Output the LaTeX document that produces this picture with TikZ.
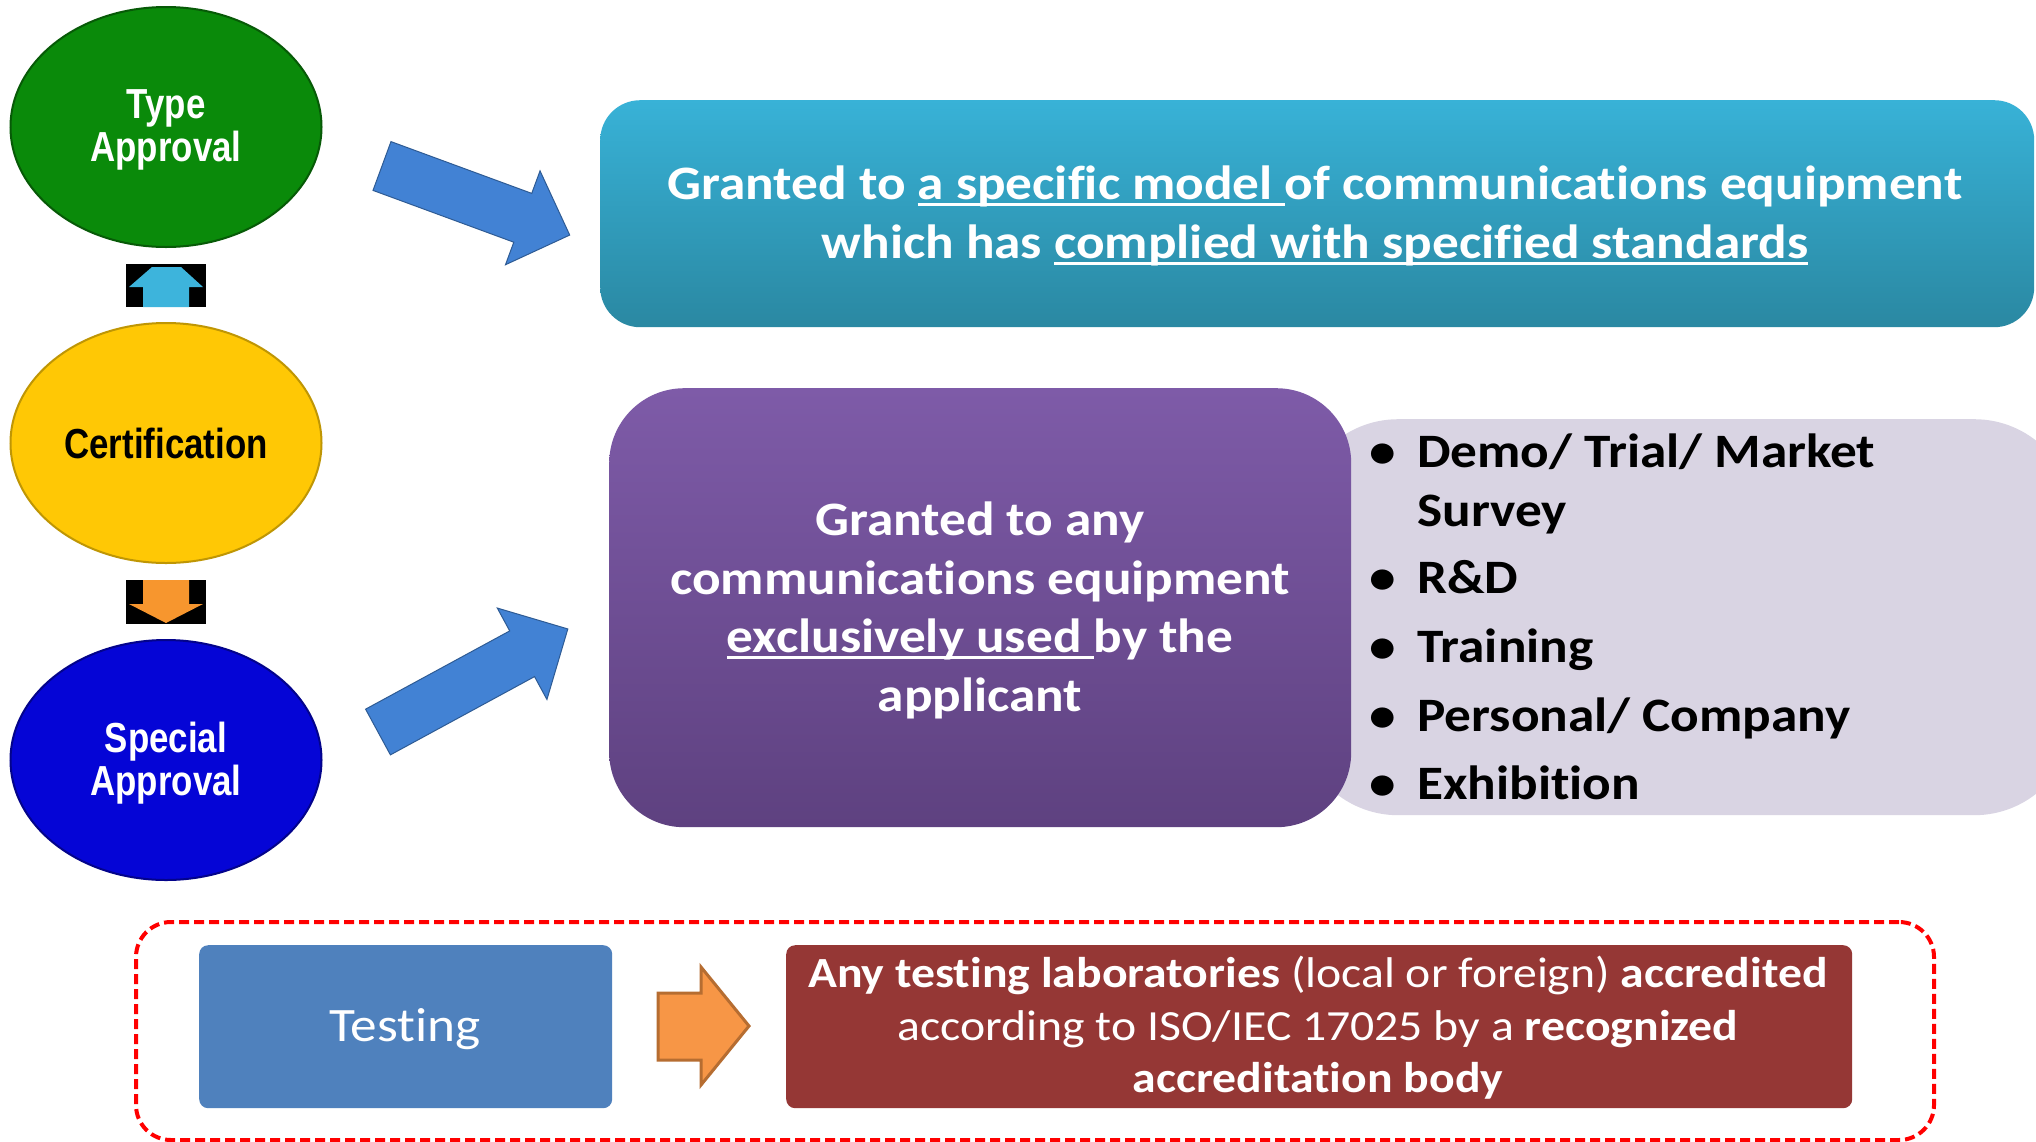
\documentclass[tikz,border=0pt]{standalone}
\usepackage{fontspec}
\setmainfont{Carlito}[FakeStretch=1.11, Ligatures=NoCommon]
\newfontfamily\narrowfont[FakeStretch=0.83]{Liberation Sans}
\usetikzlibrary{shapes.geometric}
\definecolor{tagreen}{HTML}{0A8A0A}
\definecolor{cyellow}{HTML}{FFC805}
\definecolor{sablue}{HTML}{0505D6}
\definecolor{cyanT}{HTML}{38B2D7}
\definecolor{cyanB}{HTML}{2A88A2}
\definecolor{purT}{HTML}{7E5BA8}
\definecolor{purB}{HTML}{5E4180}
\definecolor{lav}{HTML}{D9D4E3}
\definecolor{testblue}{HTML}{4F81BD}
\definecolor{darkred}{HTML}{953735}
\definecolor{orfill}{HTML}{F79646}
\definecolor{ordraw}{HTML}{B66D31}
\definecolor{arrowblue}{HTML}{4282D4}
\definecolor{smallcyan}{HTML}{3DB4DC}
\definecolor{smallorange}{HTML}{F7962E}
\newcommand\ulbox[1]{\setbox0\hbox{#1}\rlap{\rule[-7pt]{\wd0}{3pt}}\box0}
\begin{document}
\begin{tikzpicture}[x=1pt,y=-1pt,
  oval/.style={ellipse, minimum width=311pt, minimum height=240pt, inner sep=0pt, line width=2pt, align=center, font=\narrowfont\bfseries\fontsize{42}{43}\selectfont},
  wtxt/.style={text=white, font=\bfseries\fontsize{48}{58}\selectfont, anchor=base, inner sep=0pt},
  btxt/.style={text=black, font=\bfseries\fontsize{48}{58}\selectfont, anchor=base west, inner sep=0pt},
  rtxt/.style={text=white, font=\fontsize{43}{50}\selectfont, anchor=base, inner sep=0pt},
  bigarrow/.style={fill=arrowblue, draw=arrowblue!70!black, line width=1pt},
  box/.style={inner sep=0pt, anchor=north west}
]
\fill[white] (0,0) rectangle (2036,1141);
\useasboundingbox (0,0) rectangle (2036,1141);
\begin{scope}
\clip (0,0) rectangle (2036,1141);

% ellipses
\node[oval, fill=tagreen, draw=tagreen!65!black] (ta) at (166,127) {};
\node[oval, text=white] (tat) at (166,130) {Type\\Approval};
\node[oval, fill=cyellow, draw=cyellow!75!black, text=black] (cert) at (166,443) {Certification};
\node[oval, fill=sablue, draw=sablue!65!black] (sa) at (166,760) {};
\node[oval, text=white] (sat) at (166,763) {Special\\Approval};

% small arrow boxes
\fill[black] (126,264) rectangle (206,307);
\fill[smallcyan] (152,267) -- (181,267) -- (203,287) -- (189,287) -- (189,307) -- (143,307) -- (143,287) -- (129,287) -- cycle;
\fill[black] (126,580) rectangle (206,624);
\fill[smallorange] (143,580) -- (189,580) -- (189,604) -- (203,604) -- (166,623) -- (129,604) -- (143,604) -- cycle;

% big arrows
\begin{scope}[shift={(382,166)}, rotate=-20.2]
\filldraw[bigarrow] (0,-26) -- (150,-26) -- (150,-50) -- (200,0) -- (150,50) -- (150,26) -- (0,26) -- cycle;
\end{scope}
\begin{scope}[shift={(378,732)}, rotate=28.5]
\filldraw[bigarrow] (0,-26) -- (164,-26) -- (164,-52) -- (216,0) -- (164,52) -- (164,26) -- (0,26) -- cycle;
\end{scope}

% top box
\node[box, rounded corners=40pt, top color=cyanT, bottom color=cyanB, minimum width=1434pt, minimum height=227pt] (tb) at (600,100) {};
\node[wtxt] (tb1) at (1315,199) {Granted to \ulbox{a specific model\ }of communications equipment};
\node[wtxt] (tb2) at (1315,258) {which has \ulbox{complied with specified standards}};

% lavender and purple
\node[box, rounded corners=100pt, fill=lav, minimum width=776pt, minimum height=396pt] (lb) at (1298,419) {};
\node[box, rounded corners=75pt, top color=purT, bottom color=purB, minimum width=742pt, minimum height=439pt] (pb) at (609,388) {};
\node[wtxt] (pb1) at (980,535) {Granted to any};
\node[wtxt] (pb2) at (980,594) {communications equipment};
\node[wtxt] (pb3) at (980,652) {\ulbox{exclusively used\ }by the};
\node[wtxt] (pb4) at (980,711) {applicant};

% bullets
\foreach \n/\y in {1/467,3/593,4/662,5/731,6/799}
  \node[text=black, font=\bfseries\fontsize{48}{58}\selectfont, anchor=base, inner sep=0pt] (bul\n) at (1383,\y) {•};
\node[btxt] (l1) at (1417,467) {Demo/ Trial/ Market};
\node[btxt] (l2) at (1417,526) {Survey};
\node[btxt] (l3) at (1417,593) {R\&D};
\node[btxt] (l4) at (1417,662) {Training};
\node[btxt] (l5) at (1417,731) {Personal/ Company};
\node[btxt] (l6) at (1417,799) {Exhibition};

% bottom
\node[box, draw=red, dash pattern=on 10pt off 5pt, line width=4pt, rounded corners=35pt, minimum width=1798pt, minimum height=218pt] (frame) at (134,920) {};
\node[box, rounded corners=9pt, fill=testblue, minimum width=413pt, minimum height=163pt] (test) at (199,945) {};
\node[text=white, font=\fontsize{48}{60}\selectfont, anchor=base, inner sep=0pt] (testt) at (405,1041) {Testing};
\node[box, rounded corners=9pt, fill=darkred, minimum width=1066pt, minimum height=163pt] (lab) at (786,945) {};
\node[rtxt] (lab1) at (1318,987) {\textbf{Any testing laboratories} (local or foreign) \textbf{accredited}};
\node[rtxt] (lab2) at (1318,1040) {according to ISO/IEC 17025 by a \textbf{recognized}};
\node[rtxt] (lab3) at (1318,1092) {\textbf{accreditation body}};
\filldraw[fill=orfill, draw=ordraw, line width=3pt, line join=miter] (658,993) -- (701,993) -- (701,967) -- (749,1026) -- (701,1085) -- (701,1060) -- (658,1060) -- cycle;
\end{scope}
\end{tikzpicture}
\end{document}
